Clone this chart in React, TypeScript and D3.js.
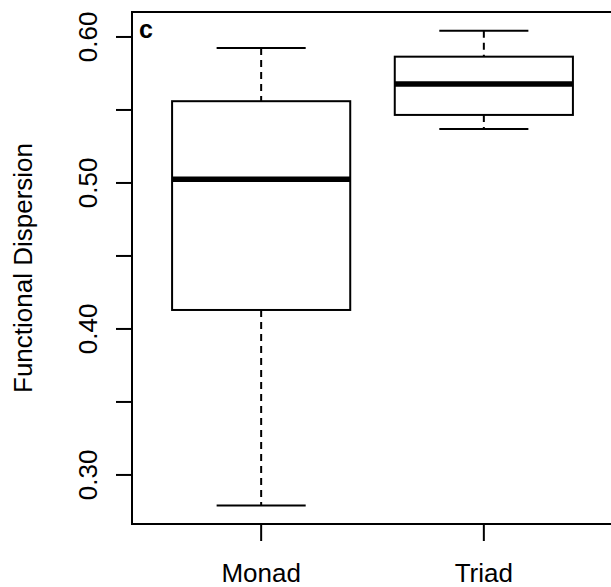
import React from "react";
import * as d3 from "d3";

// box statistics
const groups = ["Monad", "Triad"];
const lowerWhisker = [0.279, 0.537];
const lowerHinge = [0.413, 0.5466];
const medians = [0.5025, 0.5678];
const upperHinge = [0.556, 0.5865];
const upperWhisker = [0.5925, 0.6043];

const yTicks = [0.3, 0.35, 0.4, 0.45, 0.5, 0.55, 0.6];
const yTickLabels = ["0.30", "", "0.40", "", "0.50", "", "0.60"];

const W = 611;
const H = 587;
const margin = { left: 132, top: 12, right: -2, bottom: 63 };
const font = "'Liberation Sans', Arial, Helvetica, sans-serif";

export default function App() {
  const x = d3
    .scaleLinear()
    .domain([0.42, 2.58]) // R style 4% extension around 0.5..2.5
    .range([margin.left, W - margin.right]);
  const y = d3
    .scaleLinear()
    .domain([0.2664, 0.6171])
    .range([H - margin.bottom, margin.top]);

  const unit = x(1) - x(0);
  const boxHalf = 0.4 * unit;
  const capHalf = 0.2 * unit;
  const bottom = H - margin.bottom;

  return (
    <svg
      width={W}
      height={H}
      style={{ position: "fixed", left: 0, top: 0, background: "#fff" }}
      fontFamily={font}
    >
      <rect x={0} y={0} width={W} height={H} fill="#fff" />

      {groups.map((g, i) => {
        const cx = x(i + 1);
        return (
          <g key={g}>
            {/* whiskers */}
            <line x1={cx} x2={cx} y1={y(upperWhisker[i])} y2={y(upperHinge[i])}
              stroke="#000" strokeWidth={2} strokeDasharray="7,5" />
            <line x1={cx} x2={cx} y1={y(lowerHinge[i])} y2={y(lowerWhisker[i])}
              stroke="#000" strokeWidth={2} strokeDasharray="7,5" />
            <line x1={cx - capHalf} x2={cx + capHalf} y1={y(upperWhisker[i])} y2={y(upperWhisker[i])}
              stroke="#000" strokeWidth={2} />
            <line x1={cx - capHalf} x2={cx + capHalf} y1={y(lowerWhisker[i])} y2={y(lowerWhisker[i])}
              stroke="#000" strokeWidth={2} />
            {/* box */}
            <rect x={cx - boxHalf} y={y(upperHinge[i])} width={2 * boxHalf}
              height={y(lowerHinge[i]) - y(upperHinge[i])}
              fill="#fff" stroke="#000" strokeWidth={2} />
            <line x1={cx - boxHalf} x2={cx + boxHalf} y1={y(medians[i])} y2={y(medians[i])}
              stroke="#000" strokeWidth={5.5} />
          </g>
        );
      })}

      {/* frame */}
      <rect x={margin.left} y={margin.top} width={W - margin.right - margin.left}
        height={bottom - margin.top} fill="none" stroke="#000" strokeWidth={2} />

      {/* y axis */}
      {yTicks.map((t, i) => (
        <g key={t}>
          <line x1={margin.left - 16} x2={margin.left} y1={y(t)} y2={y(t)} stroke="#000" strokeWidth={2} />
          {yTickLabels[i] && (
            <text transform={`translate(97,${y(t)}) rotate(-90)`} textAnchor="middle"
              fontSize={26} fill="#000">
              {yTickLabels[i]}
            </text>
          )}
        </g>
      ))}
      <text transform={`translate(32,${(margin.top + bottom) / 2}) rotate(-90)`}
        textAnchor="middle" fontSize={26} fill="#000">
        Functional Dispersion
      </text>

      {/* x axis */}
      {groups.map((g, i) => (
        <g key={g}>
          <line x1={x(i + 1)} x2={x(i + 1)} y1={bottom} y2={bottom + 17} stroke="#000" strokeWidth={2} />
          <text x={x(i + 1)} y={582} textAnchor="middle" fontSize={26} fill="#000">{g}</text>
        </g>
      ))}

      <text x={139} y={38} fontSize={25} fontWeight="bold" fill="#000">c</text>
    </svg>
  );
}
